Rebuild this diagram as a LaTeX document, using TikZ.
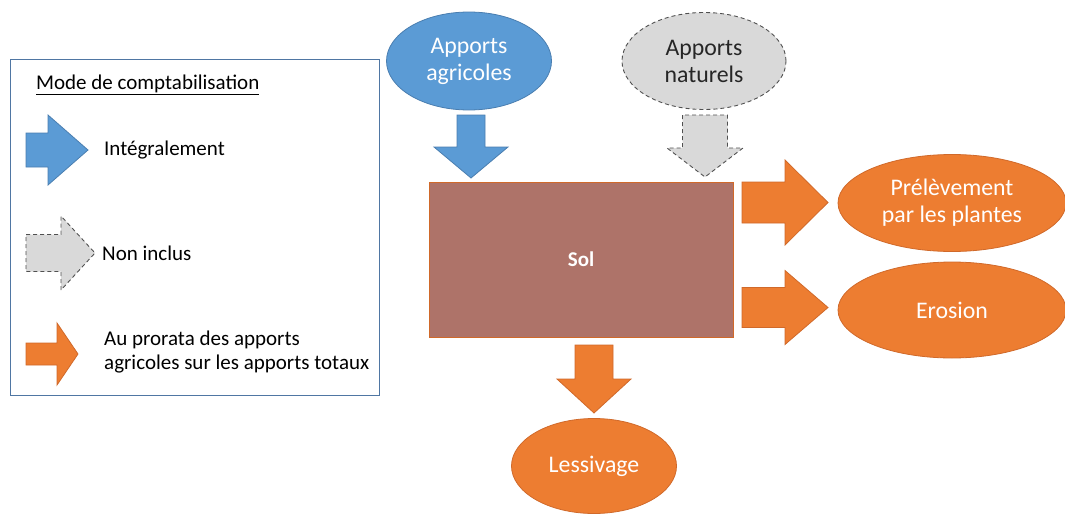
\documentclass[tikz,border=0pt]{standalone}
\usepackage{fontspec}
\setmainfont{Carlito}
\usetikzlibrary{shapes.geometric}
\definecolor{bluefill}{HTML}{5B9BD5}
\definecolor{blueline}{HTML}{4A7EB0}
\definecolor{orangefill}{HTML}{ED7D31}
\definecolor{orangeline}{HTML}{D0692A}
\definecolor{greyfill}{HTML}{D9D9D9}
\definecolor{greyline}{HTML}{505050}
\definecolor{solfill}{HTML}{AE7369}
\definecolor{legendline}{HTML}{4F76A3}
\tikzset{
  bluebox/.style={fill=bluefill, draw=blueline, line width=0.8pt},
  orangebox/.style={fill=orangefill, draw=orangeline, line width=0.8pt},
  greybox/.style={fill=greyfill, draw=greyline, line width=0.9pt, dash pattern=on 4pt off 3pt},
  oval/.style={ellipse, inner sep=0pt, align=center, font=\fontsize{23.8}{27}\selectfont},
  legendtext/.style={anchor=west, inner sep=0pt, align=left, font=\fontsize{21}{24}\selectfont}
}
% horizontal block arrow: tail x, shaft-end x, tip x, centre y, shaft half width, head half width
\newcommand{\arrowRight}[7]{%
  \draw[#1] (#2,#5-#6) -- (#3,#5-#6) -- (#3,#5-#7) -- (#4,#5) -- (#3,#5+#7)
    -- (#3,#5+#6) -- (#2,#5+#6) -- cycle;}
% vertical block arrow: tail y, shaft-end y, tip y, centre x, shaft half width, head half width
\newcommand{\arrowDown}[7]{%
  \draw[#1] (#5-#6,#2) -- (#5-#6,#3) -- (#5-#7,#3) -- (#5,#4) -- (#5+#7,#3)
    -- (#5+#6,#3) -- (#5+#6,#2) -- cycle;}
\begin{document}
\begin{tikzpicture}[x=1pt, y=-1pt]
\useasboundingbox (0,0) rectangle (1065,514);

% legend frame
\draw[legendline, line width=0.9pt] (10,59) rectangle (379,395);
\node[legendtext] (title) at (36,85) {\underline{Mode de comptabilisation}};
\arrowRight{bluebox}{26}{48}{88}{150}{17}{35}
\node[legendtext] (integral) at (104,150) {Intégralement};
\arrowRight{greybox}{26}{61}{95}{253}{18.5}{37}
\node[legendtext] (noninc) at (102,253) {Non inclus};
\arrowRight{orangebox}{26}{57}{78}{354}{11}{31}
\node[legendtext] (prorata) at (104,352) {Au prorata des apports\\agricoles sur les apports totaux};

% soil compartment
\node[draw=orangeline, fill=solfill, line width=0.8pt, minimum width=304pt, minimum height=155pt,
      inner sep=0pt, text=white, font=\fontsize{21}{24}\selectfont\bfseries] (sol) at (581,259.5) {Sol};

% inputs
\node[oval, bluebox, minimum width=165pt, minimum height=98pt, text=white] (agri) at (469,61) {Apports\\agricoles};
\node[oval, greybox, minimum width=164pt, minimum height=97pt, text=black!85] (nat) at (704,61) {Apports\\naturels};
\arrowDown{bluebox}{115}{147}{178}{471}{14}{37}
\arrowDown{greybox}{115}{148}{177}{705}{22.5}{38}

% outputs
\node[oval, orangebox, minimum width=228pt, minimum height=97pt, text=white] (prel) at (952,203) {Prélèvement\\par les plantes};
\node[oval, orangebox, minimum width=228pt, minimum height=96pt, text=white] (eros) at (952,310) {Erosion};
\node[oval, orangebox, minimum width=165pt, minimum height=95pt, text=white] (less) at (594,466) {Lessivage};
\arrowRight{orangebox}{742}{785}{828}{202.5}{20.5}{42.5}
\arrowRight{orangebox}{742}{785}{828}{307.5}{20}{37}
\arrowDown{orangebox}{345}{379}{413}{594}{19}{37}
\end{tikzpicture}
\end{document}
